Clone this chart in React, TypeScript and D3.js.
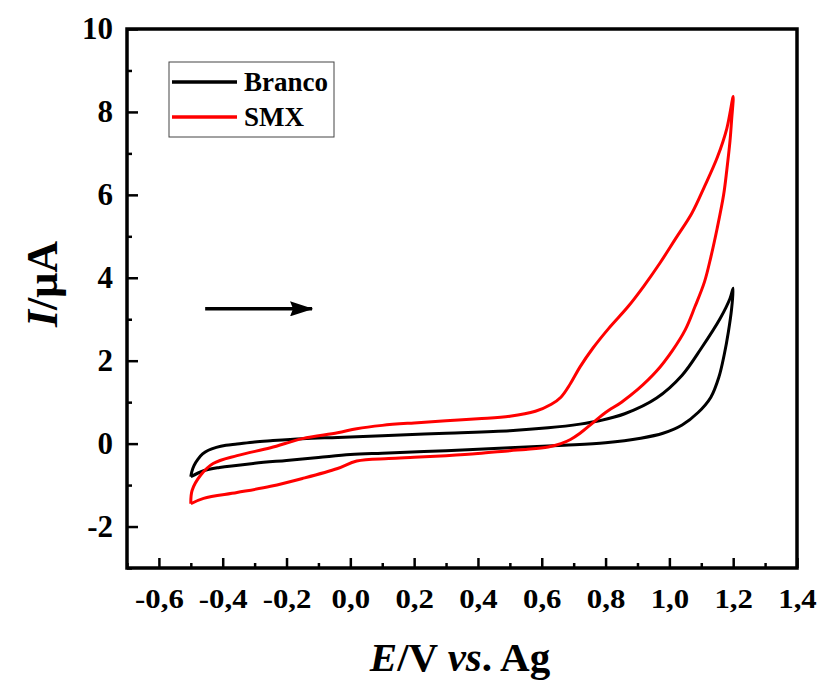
import React, { useEffect, useRef } from 'react';
import * as d3 from 'd3';

// Cyclic voltammograms (E in V, I in uA)
const brancoE = [-0.5, -0.497, -0.49, -0.478, -0.463, -0.445, -0.42, -0.39, -0.355, -0.3, -0.25, -0.15, -0.04, 0.1, 0.3, 0.5, 0.62, 0.72, 0.78, 0.86, 0.96, 1.04, 1.1, 1.16, 1.19, 1.2,
  1.195, 1.185, 1.172, 1.155, 1.13, 1.09, 1.04, 0.98, 0.91, 0.8, 0.67, 0.5, 0.3, 0.1, 0.0, -0.1, -0.2, -0.3, -0.41, -0.46, -0.5];
const brancoI = [-0.8, -0.68, -0.53, -0.38, -0.25, -0.16, -0.09, -0.04, -0.01, 0.04, 0.07, 0.12, 0.15, 0.19, 0.25, 0.31, 0.38, 0.47, 0.55, 0.72, 1.1, 1.65, 2.3, 3.03, 3.5, 3.75,
  3.25, 2.7, 2.15, 1.6, 1.12, 0.75, 0.45, 0.25, 0.13, 0.02, -0.04, -0.1, -0.17, -0.23, -0.265, -0.335, -0.405, -0.475, -0.575, -0.655, -0.8];

const smxE = [-0.5, -0.496, -0.47, -0.43, -0.355, -0.25, -0.15, -0.04, 0.02, 0.1, 0.2, 0.3, 0.4, 0.5, 0.58, 0.63, 0.66, 0.69, 0.72, 0.76, 0.81, 0.87, 0.92, 0.97, 1.02, 1.07, 1.11, 1.15, 1.18, 1.2,
  1.195, 1.19, 1.18, 1.17, 1.15, 1.13, 1.11, 1.08, 1.05, 1.01, 0.96, 0.9, 0.85, 0.8, 0.76, 0.72, 0.69, 0.66, 0.62, 0.55, 0.5, 0.4, 0.3, 0.2, 0.12, 0.02, -0.04, -0.15, -0.25, -0.355, -0.46, -0.5];
const smxI = [-1.45, -1.13, -0.77, -0.48, -0.29, -0.1, 0.12, 0.26, 0.36, 0.44, 0.5, 0.55, 0.6, 0.66, 0.78, 0.95, 1.12, 1.45, 1.85, 2.3, 2.78, 3.3, 3.8, 4.35, 4.95, 5.55, 6.2, 6.9, 7.6, 8.37,
  7.8, 7.3, 6.6, 6.0, 5.2, 4.5, 3.9, 3.3, 2.75, 2.25, 1.75, 1.3, 1.0, 0.75, 0.5, 0.25, 0.1, 0.0, -0.08, -0.14, -0.17, -0.24, -0.29, -0.33, -0.36, -0.42, -0.6, -0.84, -1.03, -1.18, -1.32, -1.45];

const xTicks = [-0.6, -0.4, -0.2, 0.0, 0.2, 0.4, 0.6, 0.8, 1.0, 1.2, 1.4];
const yTicks = [-2, 0, 2, 4, 6, 8, 10];
const seriesNames = ['Branco', 'SMX'];
const seriesColors = ['#000000', '#ff0000'];
const arrowE = [-0.455, -0.12];
const arrowI = 3.25;

const W = 821;
const H = 682;
const margin = { top: 29, right: 24, bottom: 114, left: 127 };
const font = '"Liberation Serif", "Times New Roman", serif';

const App = () => {
  const ref = useRef<SVGSVGElement>(null);

  useEffect(() => {
    const svg = d3.select(ref.current);
    svg.selectAll('*').remove();

    const innerW = W - margin.left - margin.right;
    const innerH = H - margin.top - margin.bottom;
    const x = d3.scaleLinear().domain([-0.7, 1.4]).range([0, innerW]);
    const y = d3.scaleLinear().domain([-3, 10]).range([innerH, 0]);

    const g = svg.append('g').attr('transform', `translate(${margin.left},${margin.top})`);

    const line = d3.line<[number, number]>()
      .x(d => x(d[0]))
      .y(d => y(d[1]))
      .curve(d3.curveCatmullRom.alpha(0.5));

    const series = [
      brancoE.map((e, i) => [e, brancoI[i]] as [number, number]),
      smxE.map((e, i) => [e, smxI[i]] as [number, number]),
    ];

    series.forEach((pts, k) => {
      g.append('path')
        .attr('d', line(pts))
        .attr('fill', 'none')
        .attr('stroke', seriesColors[k])
        .attr('stroke-width', 3)
        .attr('stroke-linejoin', 'round');
    });

    const fmt = (d: number) => d3.format('.1f')(d).replace('.', ',').replace('−', '-');

    // x axis: ticks pointing inward
    const xMinor = d3.range(-0.7, 1.41, 0.1).filter(v => xTicks.every(t => Math.abs(t - v) > 1e-6));
    g.append('g')
      .attr('transform', `translate(0,${innerH})`)
      .call(d3.axisBottom(x).tickValues(xMinor).tickSize(-5).tickFormat(() => ''))
      .call(a => a.select('.domain').remove())
      .call(a => a.selectAll('line').attr('stroke-width', 2.5));
    const xAxis = g.append('g')
      .attr('transform', `translate(0,${innerH})`)
      .call(d3.axisBottom(x).tickValues(xTicks).tickSize(-10).tickFormat(d => fmt(d as number)));
    xAxis.select('.domain').remove();
    xAxis.selectAll('line').attr('stroke-width', 2.5);
    xAxis.selectAll('text')
      .attr('font-family', font).attr('font-weight', 'bold').attr('font-size', 28).attr('fill', '#000')
      .attr('dy', null).attr('y', 40)
      .attr('transform', 'scale(1.1,1)');

    // y axis
    const yMinor = d3.range(-3, 10, 1).filter(v => v % 2 !== 0);
    g.append('g')
      .call(d3.axisLeft(y).tickValues(yMinor).tickSize(-5).tickFormat(() => ''))
      .call(a => a.select('.domain').remove())
      .call(a => a.selectAll('line').attr('stroke-width', 2.5));
    const yAxis = g.append('g')
      .call(d3.axisLeft(y).tickValues(yTicks).tickSize(-11)
        .tickFormat(d => String(d).replace('−', '-')));
    yAxis.select('.domain').remove();
    yAxis.selectAll('line').attr('stroke-width', 2.5);
    yAxis.selectAll('text')
      .attr('font-family', font).attr('font-weight', 'bold').attr('font-size', 31).attr('fill', '#000')
      .attr('x', -14);

    // frame
    g.append('rect')
      .attr('width', innerW).attr('height', innerH)
      .attr('fill', 'none').attr('stroke', '#000').attr('stroke-width', 3.5);

    // scan direction arrow
    svg.append('defs').append('marker')
      .attr('id', 'arrowhead')
      .attr('viewBox', '0 0 23 15').attr('refX', 22).attr('refY', 7.5)
      .attr('markerWidth', 23).attr('markerHeight', 15).attr('markerUnits', 'userSpaceOnUse')
      .attr('orient', 'auto')
      .append('path').attr('d', 'M0,0 L23,7.5 L0,15 L3,7.5 Z').attr('fill', '#000');
    g.append('line')
      .attr('x1', x(arrowE[0])).attr('x2', x(arrowE[1]))
      .attr('y1', y(arrowI)).attr('y2', y(arrowI))
      .attr('stroke', '#000').attr('stroke-width', 3.5)
      .attr('marker-end', 'url(#arrowhead)');

    // legend
    const lg = svg.append('g').attr('transform', 'translate(169,62)');
    lg.append('rect').attr('width', 165).attr('height', 75)
      .attr('fill', '#fff').attr('stroke', '#444').attr('stroke-width', 1);
    seriesNames.forEach((name, k) => {
      const yy = 20 + k * 35;
      lg.append('line').attr('x1', 3).attr('x2', 68).attr('y1', yy).attr('y2', yy)
        .attr('stroke', seriesColors[k]).attr('stroke-width', 3.5);
      lg.append('text').attr('x', 75).attr('y', yy + 9)
        .attr('font-family', font).attr('font-weight', 'bold').attr('font-size', 27)
        .text(name);
    });

    // axis titles
    const yt = svg.append('text')
      .attr('transform', 'translate(57,284) rotate(-90)')
      .attr('text-anchor', 'middle')
      .attr('font-family', font).attr('font-weight', 'bold').attr('font-size', 44);
    yt.append('tspan').attr('font-style', 'italic').text('I');
    yt.append('tspan').text('/μA');

    const xt = svg.append('text')
      .attr('x', margin.left + innerW / 2 - 2).attr('y', 671)
      .attr('text-anchor', 'middle')
      .attr('font-family', font).attr('font-weight', 'bold').attr('font-size', 41);
    xt.append('tspan').attr('font-style', 'italic').text('E');
    xt.append('tspan').text('/V ');
    xt.append('tspan').attr('font-style', 'italic').text('vs');
    xt.append('tspan').text('. Ag');
  }, []);

  return (
    <svg ref={ref} width={W} height={H}
      style={{ position: 'absolute', left: 0, top: 0, background: '#fff' }} />
  );
};

export default App;
